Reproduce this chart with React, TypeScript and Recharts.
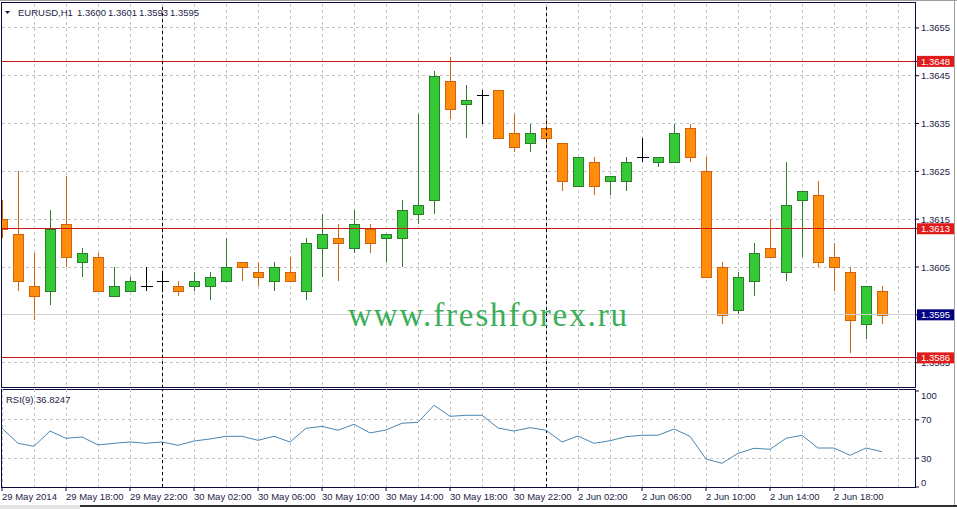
import React from "react";
import {
  ComposedChart,
  LineChart,
  Bar,
  Line,
  XAxis,
  YAxis,
  CartesianGrid,
  ReferenceLine,
} from "recharts";

// EURUSD H1 candles, 29 May 14:00 .. 2 Jun 19:00
const opens = [
  1.3615, 1.3612, 1.3601, 1.36, 1.3614, 1.3606, 1.3607, 1.3599, 1.36, 1.3601,
  1.3602, 1.3601, 1.3601, 1.3601, 1.3602, 1.3606, 1.3604, 1.3602, 1.3604, 1.36,
  1.3609, 1.3611, 1.3609, 1.3613, 1.3611, 1.3611, 1.3616, 1.3619, 1.3644, 1.3639,
  1.3641, 1.3642, 1.3633, 1.3631, 1.3634, 1.3631, 1.3622, 1.3627, 1.3623, 1.3623,
  1.3628, 1.3627, 1.3627, 1.3634, 1.3625, 1.3605, 1.3596, 1.3602, 1.3609, 1.3604,
  1.3619, 1.362, 1.3607, 1.3604, 1.3593, 1.36,
];
const highs = [
  1.3619, 1.3625, 1.3608, 1.3617, 1.3624, 1.3609, 1.3608, 1.3605, 1.3603, 1.3605,
  1.3604, 1.3602, 1.3604, 1.3604, 1.3611, 1.3606, 1.3606, 1.3606, 1.3607, 1.3611,
  1.3616, 1.3614, 1.3617, 1.3614, 1.3612, 1.3619, 1.3637, 1.3646, 1.3649, 1.3643,
  1.3642, 1.3642, 1.3637, 1.3635, 1.3636, 1.3631, 1.3628, 1.3628, 1.3624, 1.3628,
  1.3632, 1.3628, 1.3635, 1.3635, 1.3628, 1.3606, 1.3604, 1.361, 1.3615, 1.3627,
  1.3621, 1.3623, 1.361, 1.3605, 1.3601, 1.3601,
];
const lows = [
  1.3611, 1.36, 1.3594, 1.3597, 1.3605, 1.3603, 1.36, 1.3599, 1.36, 1.36,
  1.36, 1.3599, 1.36, 1.3598, 1.3602, 1.3602, 1.3601, 1.36, 1.3602, 1.3598,
  1.3603, 1.3602, 1.3608, 1.3608, 1.3606, 1.3605, 1.3614, 1.3616, 1.3636, 1.3632,
  1.3635, 1.3632, 1.3629, 1.3629, 1.363, 1.3621, 1.3622, 1.362, 1.362, 1.3621,
  1.3627, 1.3626, 1.3627, 1.3627, 1.3603, 1.3593, 1.3595, 1.3599, 1.3607, 1.3602,
  1.3607, 1.3605, 1.36, 1.3587, 1.359, 1.3593,
];
const closes = [
  1.3613, 1.3602, 1.3599, 1.3613, 1.3607, 1.3608, 1.36, 1.3601, 1.3602, 1.3601,
  1.3602, 1.36, 1.3602, 1.3603, 1.3605, 1.3605, 1.3603, 1.3605, 1.3602, 1.361,
  1.3612, 1.361, 1.3614, 1.361, 1.3612, 1.3617, 1.3618, 1.3645, 1.3638, 1.364,
  1.3641, 1.3632, 1.363, 1.3633, 1.3632, 1.3623, 1.3628, 1.3622, 1.3624, 1.3627,
  1.3628, 1.3628, 1.3633, 1.3628, 1.3603, 1.3595, 1.3603, 1.3608, 1.3607, 1.3618,
  1.3621, 1.3606, 1.3605, 1.3594, 1.3601, 1.3595,
];
const rsiValues = [
  61.1, 45.5, 42.4, 58.3, 50.7, 52.1, 43.8, 45.5, 46.9, 45.5,
  46.9, 43.4, 47.9, 50.0, 52.8, 52.8, 48.6, 52.8, 46.9, 61.1,
  63.2, 59.1, 65.3, 56.3, 59.4, 66.4, 67.4, 85.1, 73.6, 74.7,
  74.7, 61.5, 58.3, 61.8, 59.1, 46.9, 53.1, 45.5, 48.2, 52.4,
  53.9, 53.9, 60.4, 52.8, 29.2, 24.7, 35.1, 40.3, 39.3, 50.7,
  53.9, 40.6, 40.6, 33.0, 40.6, 36.8,
];

const timeLabels = [
  "29 May 2014", "29 May 18:00", "29 May 22:00", "30 May 02:00", "30 May 06:00",
  "30 May 10:00", "30 May 14:00", "30 May 18:00", "30 May 22:00", "2 Jun 02:00",
  "2 Jun 06:00", "2 Jun 10:00", "2 Jun 14:00", "2 Jun 18:00",
];
const labelBars = [0, 4, 8, 12, 16, 20, 24, 28, 32, 36, 40, 44, 48, 52];
const daySeparators = [10, 34];

const priceTicks = [1.3585, 1.3595, 1.3605, 1.3615, 1.3625, 1.3635, 1.3645, 1.3655];
const levelLines = [1.3648, 1.3613, 1.3586];
const lastPrice = 1.3595;
const rsiTicks = [0, 30, 70, 100];
const rsiGridLevels = [30, 70];

const symbolName = "EURUSD,H1";
const lastBarOhlc = ["1.3600", "1.3601", "1.3593", "1.3595"];
const rsiTitle = "RSI(9) 36.8247";
const watermark = "www.freshforex.ru";

const candles = opens.map((open, i) => ({
  i,
  open,
  high: highs[i],
  low: lows[i],
  close: closes[i],
  rsi: rsiValues[i],
}));

const font = "Tahoma, 'Liberation Sans', Arial, sans-serif";
const ink = "#1c1c48";
const frame = "#0a0a3c";
const gridColor = "#c4c4c4";
const xDomain = [0, 57.0625];
const gridBars = Array.from({ length: 29 }, (_, k) => k * 2);

const Candle = (props: any) => {
  const { x, y, width, height, payload } = props;
  if (!payload || !height) return null;
  const { open, close, high, low } = payload;
  const cx = Math.round(x + width / 2) + 0.5;
  const k = height / (high - low);
  const yOf = (v: number) => y + (high - v) * k;
  if (open === close) {
    const yo = Math.round(yOf(open)) + 0.5;
    return (
      <g shapeRendering="crispEdges">
        <line x1={cx} x2={cx} y1={y} y2={y + height} stroke="#000" />
        <line x1={cx - 6} x2={cx + 6} y1={yo} y2={yo} stroke="#000" />
      </g>
    );
  }
  const bull = close > open;
  const fill = bull ? "#35c935" : "#ff8c0a";
  const edge = bull ? "#2b7d2b" : "#d0640c";
  const top = Math.round(yOf(Math.max(open, close))) + 0.5;
  const bot = Math.round(yOf(Math.min(open, close))) + 0.5;
  return (
    <g shapeRendering="crispEdges">
      <line x1={cx} x2={cx} y1={y} y2={y + height} stroke={edge} />
      <rect x={cx - 5} y={top} width={10} height={Math.max(bot - top, 1)} fill={fill} stroke={edge} />
    </g>
  );
};

const PriceTick = (props: any) => {
  const { x, y, payload } = props;
  const v = payload.value as number;
  const label = v.toFixed(4);
  if (v === lastPrice || levelLines.includes(v)) {
    const bg = v === lastPrice ? "#000080" : "#e11a1a";
    return (
      <g>
        <rect x={x - 4} y={y - 5.5} width={37} height={11} fill={bg} />
        <text x={x} y={y + 3.5} fill="#fff" fontSize={9.5} fontFamily={font}>
          {label}
        </text>
      </g>
    );
  }
  return (
    <text x={x} y={y + 3.5} fill={ink} fontSize={9.5} fontFamily={font}>
      {label}
    </text>
  );
};

const RsiTick = (props: any) => {
  const { x, y, payload } = props;
  const v = payload.value as number;
  const dy = v === 100 ? 8.5 : v === 0 ? -1.5 : 3.5;
  return (
    <text x={x} y={y + dy} fill={ink} fontSize={9.5} fontFamily={font}>
      {v}
    </text>
  );
};

const TimeTick = (props: any) => {
  const { x, y, payload } = props;
  const idx = labelBars.indexOf(payload.value);
  return (
    <text x={x} y={y + 6.5} fill={ink} fontSize={9.5} fontFamily={font} textAnchor="start">
      {timeLabels[idx]}
    </text>
  );
};

export default function App() {
  return (
    <div
      style={{
        position: "relative",
        width: 957,
        height: 509,
        overflow: "hidden",
        background: "#fff",
        fontFamily: font,
      }}
    >
      <style>{"body{margin:0}"}</style>

      {/* panel frames */}
      <div style={{ position: "absolute", left: 0, top: 0, width: 957, height: 1, background: "#a0a0a0" }} />
      <div style={{ position: "absolute", left: 954, top: 0, width: 1, height: 506, background: "#a0a0a0" }} />
      <div
        style={{
          position: "absolute", left: 1, top: 2, width: 915, height: 386,
          boxSizing: "border-box", border: `1px solid ${frame}`,
        }}
      />
      <div
        style={{
          position: "absolute", left: 1, top: 389, width: 915, height: 99,
          boxSizing: "border-box", border: `1px solid ${frame}`,
        }}
      />
      <div style={{ position: "absolute", left: 80, top: 505, width: 877, height: 2, background: "#303030" }} />
      <div style={{ position: "absolute", left: 0, top: 505, width: 80, height: 4, background: "#e4e4e4" }} />

      <div style={{ position: "absolute", left: 0, top: 0 }}>
        <ComposedChart width={957} height={388} data={candles} margin={{ top: 4, right: 0, bottom: 0, left: 2 }}>
          <CartesianGrid
            stroke={gridColor}
            strokeDasharray="3 3"
            shapeRendering="crispEdges"
            horizontalValues={priceTicks}
            verticalValues={gridBars}
          />
          <XAxis type="number" dataKey="i" domain={xDomain} allowDataOverflow hide />
          <YAxis
            orientation="right"
            width={42}
            domain={[1.35797, 1.366]}
            allowDataOverflow
            ticks={[...priceTicks.filter((t) => t !== lastPrice), ...levelLines, lastPrice]}
            interval={0}
            tick={<PriceTick />}
            tickSize={4}
            tickMargin={2}
            tickLine={{ stroke: frame }}
            axisLine={false}
          />
          <ReferenceLine y={lastPrice} stroke="#cfcfcf" shapeRendering="crispEdges" />
          {levelLines.map((lv) => (
            <ReferenceLine key={lv} y={lv} stroke="#c81818" shapeRendering="crispEdges" />
          ))}
          {daySeparators.map((d) => (
            <ReferenceLine key={d} x={d} stroke="#000" strokeDasharray="3 3" shapeRendering="crispEdges" />
          ))}
          <Bar
            dataKey={(d: any) => [d.low, d.high]}
            barSize={10}
            shape={(p: any) => <Candle {...p} />}
            isAnimationActive={false}
          />
        </ComposedChart>
      </div>

      <div style={{ position: "absolute", left: 0, top: 389 }}>
        <LineChart width={957} height={120} data={candles} margin={{ top: 0, right: 0, bottom: 0, left: 2 }}>
          <CartesianGrid
            stroke={gridColor}
            strokeDasharray="3 3"
            shapeRendering="crispEdges"
            horizontalValues={rsiGridLevels}
            verticalValues={gridBars}
          />
          <XAxis
            type="number"
            dataKey="i"
            domain={xDomain}
            allowDataOverflow
            ticks={labelBars}
            interval={0}
            height={22}
            tick={<TimeTick />}
            tickSize={4}
            tickMargin={2}
            tickLine={{ stroke: frame }}
            axisLine={false}
          />
          <YAxis
            orientation="right"
            width={42}
            domain={[0, 102.08]}
            allowDataOverflow
            ticks={rsiTicks}
            interval={0}
            tick={<RsiTick />}
            tickSize={4}
            tickMargin={2}
            tickLine={{ stroke: frame }}
            axisLine={false}
          />
          {daySeparators.map((d) => (
            <ReferenceLine key={d} x={d} stroke="#000" strokeDasharray="3 3" shapeRendering="crispEdges" />
          ))}
          <Line
            dataKey="rsi"
            type="linear"
            stroke="#4a86b0"
            strokeWidth={1}
            dot={false}
            isAnimationActive={false}
          />
        </LineChart>
      </div>

      <svg
        width={957}
        height={509}
        style={{ position: "absolute", left: 0, top: 0, pointerEvents: "none" }}
      >
        <polygon points="5,11 10,11 7.5,14" fill={ink} />
        <text y={16} fontSize={9.5} fill={ink} fontFamily={font}>
          <tspan x={18}>{symbolName}</tspan>
          {lastBarOhlc.map((v, k) => (
            <tspan key={k} x={77 + k * 31}>
              {v}
            </tspan>
          ))}
        </text>
        <text x={6} y={403} fontSize={9.5} fill={ink} fontFamily={font}>
          {rsiTitle}
        </text>
        <text
          x={348}
          y={326}
          fontSize={33}
          fill="#3cae5a"
          fontFamily="'Liberation Serif', 'Times New Roman', serif"
          textLength={279}
          lengthAdjust="spacing"
        >
          {watermark}
        </text>
      </svg>
    </div>
  );
}
